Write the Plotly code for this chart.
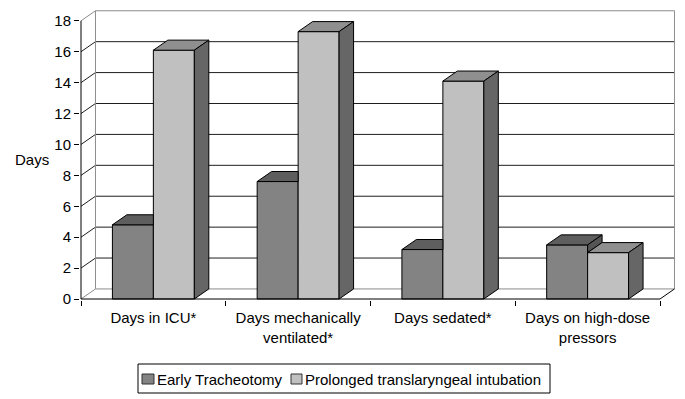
import plotly.graph_objects as go

categories = ["Days in ICU*", "Days mechanically<br>ventilated*", "Days sedated*",
              "Days on high-dose<br>pressors"]
early_trach = [4.8, 7.6, 3.2, 3.5]
prolonged_intub = [16.1, 17.3, 14.1, 3.0]
series_names = ["Early Tracheotomy", "Prolonged translaryngeal intubation"]
y_ticks = [0, 2, 4, 6, 8, 10, 12, 14, 16, 18]
y_title = "Days"

# ---- styling / 3-D projection ----
VW, VH = 685, 399            # browser window
OFF = 8                      # default page body margin
W, H = VW - OFF, VH - OFF    # figure size
# plot area in window pixels
PL, PR, PT, PB = 80, 676, 10, 300
ML, MR, MT, MB = PL - OFF, VW - PR, PT - OFF, VH - PB
BW = 0.283          # bar width (category units)
DX, DY = 0.1, 0.65  # depth offset in data units
FONT = "Liberation Sans, Arial, Helvetica, sans-serif"
DARK = dict(front="#838383", top="#5e5e5e", side="#555555")
LIGHT = dict(front="#c0c0c0", top="#8f8f8f", side="#666666")
FRAME = "#8c8c8c"
GRID = "#1e1e1e"


def pxx(p):
    return (p - PL) / (PR - PL)


def pxy(p):
    return (PB - p) / (PB - PT)


xs = list(range(len(categories)))
x_lo, x_hi = -0.5, len(categories) - 0.5
y_top = y_ticks[-1]

fig = go.Figure()

fig.add_trace(go.Bar(x=xs, y=early_trach, width=BW, offset=-BW, name=series_names[0],
                     marker=dict(color=DARK["front"], line=dict(color="black", width=1))))
fig.add_trace(go.Bar(x=xs, y=prolonged_intub, width=BW, offset=0, name=series_names[1],
                     marker=dict(color=LIGHT["front"], line=dict(color="black", width=1))))


def poly(pts, color):
    px = [p[0] for p in pts] + [pts[0][0]]
    py = [p[1] for p in pts] + [pts[0][1]]
    fig.add_trace(go.Scatter(x=px, y=py, mode="lines", fill="toself", fillcolor=color,
                             line=dict(color="black", width=1), showlegend=False,
                             hoverinfo="skip"))


for i, (v, vl) in enumerate(zip(early_trach, prolonged_intub)):
    xl, xr = i - BW, i
    if v >= vl:
        poly([(xl, v), (xl + DX, v + DY), (xr + DX, v + DY), (xr, v)], DARK["top"])
        poly([(xr, vl), (xr + DX, vl + DY), (xr + DX, v + DY), (xr, v)], DARK["side"])
    else:
        poly([(xl, v), (xl + DX, v + DY), (xr, v + DY), (xr, v)], DARK["top"])
    lr = i + BW
    poly([(i, vl), (i + DX, vl + DY), (lr + DX, vl + DY), (lr, vl)], LIGHT["top"])
    poly([(lr, 0), (lr + DX, DY), (lr + DX, vl + DY), (lr, vl)], LIGHT["side"])

shapes = []


def seg(x0, y0, x1, y1, color, layer="below"):
    shapes.append(dict(type="line", xref="x", yref="y", x0=x0, y0=y0, x1=x1, y1=y1,
                       line=dict(color=color, width=1), layer=layer))


for k in y_ticks:
    c = FRAME if k in (y_ticks[0], y_top) else GRID
    seg(x_lo + DX, k + DY, x_hi + DX, k + DY, c)
    seg(x_lo, k, x_lo + DX, k + DY, c)
seg(x_lo + DX, DY, x_lo + DX, y_top + DY, FRAME)
seg(x_hi + DX, DY, x_hi + DX, y_top + DY, FRAME)
seg(x_lo, 0, x_lo, y_top, "black", "above")
seg(x_lo, 0, x_hi, 0, "black", "above")
seg(x_hi, 0, x_hi + DX, DY, "black", "above")


# ---- legend (box, swatches, labels) ----
def prect(x0, y0, x1, y1, fill, line):
    shapes.append(dict(type="rect", xref="paper", yref="paper",
                       x0=pxx(x0), x1=pxx(x1), y0=pxy(y0), y1=pxy(y1),
                       fillcolor=fill, line=dict(color=line, width=1), layer="above"))


prect(138, 364, 550, 393, "white", "black")
prect(142, 374, 154, 384, DARK["front"], "#333333")
prect(291, 374, 302, 384, LIGHT["front"], "#333333")

annotations = [
    dict(text=y_title, xref="paper", yref="paper", x=pxx(32), y=pxy(160),
         showarrow=False, xanchor="center", yanchor="middle", font=dict(size=15)),
    dict(text=series_names[0], xref="paper", yref="paper", x=pxx(155), y=pxy(379.5),
         showarrow=False, xanchor="left", yanchor="middle", font=dict(size=15)),
    dict(text=series_names[1], xref="paper", yref="paper", x=pxx(303), y=pxy(379.5),
         showarrow=False, xanchor="left", yanchor="middle", font=dict(size=15)),
]

fig.update_layout(
    width=W, height=H,
    margin=dict(l=ML, r=MR, t=MT, b=MB, autoexpand=False),
    paper_bgcolor="white", plot_bgcolor="white",
    barmode="overlay",
    shapes=shapes,
    annotations=annotations,
    showlegend=False,
    font=dict(family=FONT, size=15, color="black"),
    xaxis=dict(range=[x_lo - 0.0069, x_hi + DX + 0.0105], tickvals=xs, ticktext=categories,
               ticks="", showgrid=False, zeroline=False, showline=False, automargin=False,
               ticklabelstandoff=7,
               minor=dict(tickvals=[x + 0.5 for x in [-1] + xs], ticks="outside",
                          ticklen=5, tickcolor="black", showgrid=False),
               tickfont=dict(size=15), fixedrange=True),
    yaxis=dict(range=[-0.065, y_top + 0.7], tickvals=y_ticks, ticks="outside", ticklen=5,
               tickcolor="black", showgrid=False, zeroline=False, showline=False,
               automargin=False, tickfont=dict(size=15), fixedrange=True),
)

fig.write_html("out.html")
